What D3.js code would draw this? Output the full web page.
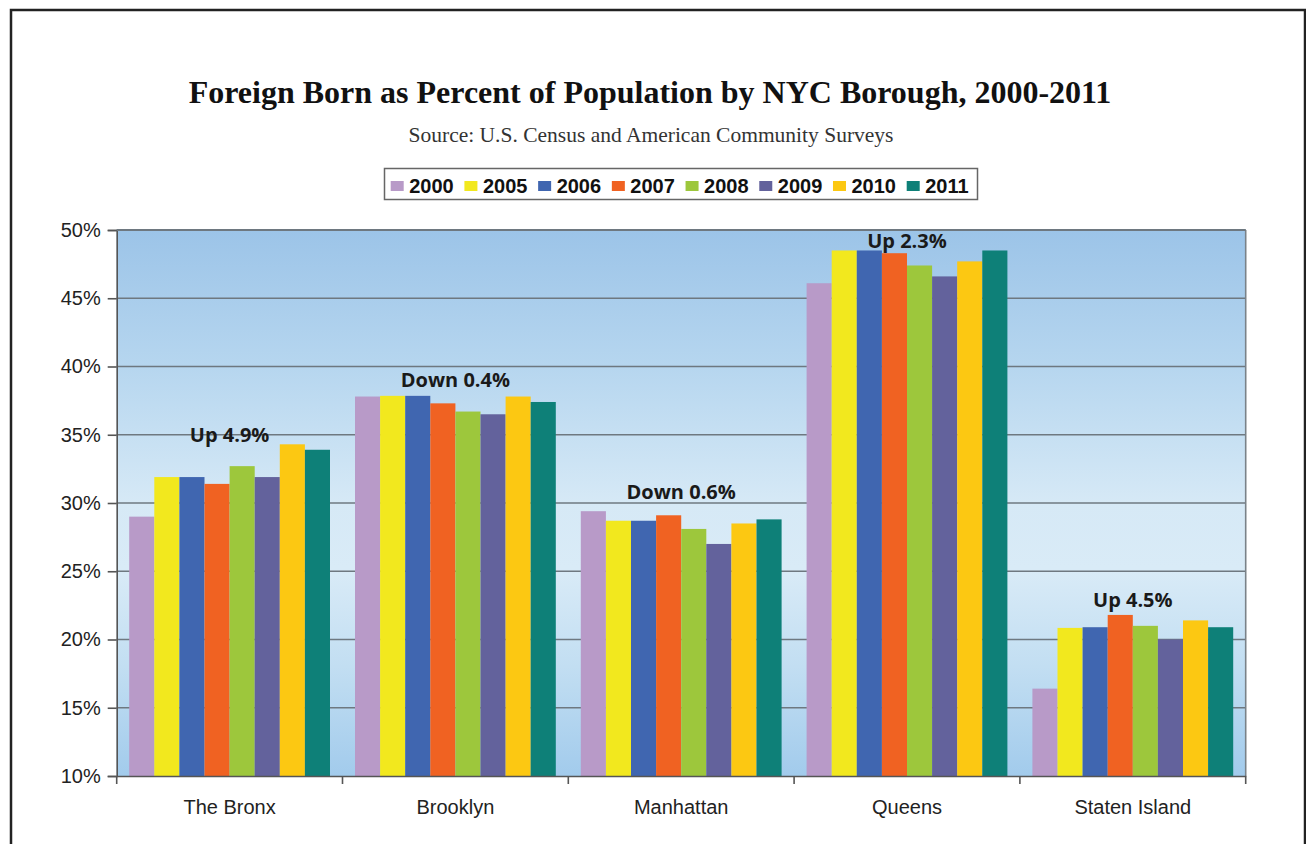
<!DOCTYPE html>
<html>
<head>
<meta charset="utf-8">
<script src="https://cdn.jsdelivr.net/npm/d3@7"></script>
<style>
  html, body { margin: 0; padding: 0; background: #fff; }
  svg { display: block; }
</style>
</head>
<body>
<svg id="chart" width="1306" height="844"></svg>
<script>
const boroughs = ["The Bronx", "Brooklyn", "Manhattan", "Queens", "Staten Island"];
const years = ["2000", "2005", "2006", "2007", "2008", "2009", "2010", "2011"];
const v2000 = [29.0, 37.8, 29.4, 46.1, 16.4];
const v2005 = [31.9, 37.85, 28.7, 48.5, 20.85];
const v2006 = [31.9, 37.85, 28.7, 48.5, 20.9];
const v2007 = [31.4, 37.3, 29.1, 48.3, 21.8];
const v2008 = [32.7, 36.7, 28.1, 47.4, 21.0];
const v2009 = [31.9, 36.5, 27.0, 46.6, 20.0];
const v2010 = [34.3, 37.8, 28.5, 47.7, 21.4];
const v2011 = [33.9, 37.4, 28.8, 48.5, 20.9];
const yearColors = ["#b89ac8", "#f2e81e", "#4066b0", "#f06222", "#9dc73c", "#63629c", "#fcc812", "#0e8078"];
const changeLabels = ["Up 4.9%", "Down 0.4%", "Down 0.6%", "Up 2.3%", "Up 4.5%"];
const changeLabelPos = [34.5, 38.5, 30.3, 48.7, 22.4];
const yTicks = [10, 15, 20, 25, 30, 35, 40, 45, 50];

const series = [v2000, v2005, v2006, v2007, v2008, v2009, v2010, v2011];
const rows = [];
boroughs.forEach((b, bi) => years.forEach((yr, yi) => rows.push({ borough: b, year: yr, value: series[yi][bi], color: yearColors[yi] })));

const svg = d3.select("#chart");
const plot = { left: 116.7, right: 1245.7, top: 230, bottom: 776 };

// outer frame
svg.append("rect").attr("x", 11).attr("y", 10).attr("width", 1294).attr("height", 850)
  .attr("fill", "none").attr("stroke", "#222").attr("stroke-width", 2.5);

// title
svg.append("text").attr("x", 650).attr("y", 103).attr("text-anchor", "middle")
  .attr("font-family", "Liberation Serif, serif").attr("font-weight", "bold").attr("font-size", 32)
  .attr("fill", "#111").text("Foreign Born as Percent of Population by NYC Borough, 2000-2011");
svg.append("text").attr("x", 651).attr("y", 141.5).attr("text-anchor", "middle")
  .attr("font-family", "Liberation Serif, serif").attr("font-size", 21.5)
  .attr("fill", "#333").text("Source: U.S. Census and American Community Surveys");

// legend
const leg = svg.append("g");
leg.append("rect").attr("x", 384.5).attr("y", 168.5).attr("width", 593).attr("height", 31)
  .attr("fill", "#fff").attr("stroke", "#666").attr("stroke-width", 1.5);
const legX = d3.scaleLinear().domain([0, years.length - 1]).range([390.7, 906.7]);
years.forEach((yr, i) => {
  leg.append("rect").attr("x", legX(i)).attr("y", 181).attr("width", 13).attr("height", 10).attr("fill", yearColors[i]);
  leg.append("text").attr("x", legX(i) + 18.5).attr("y", 192.7)
    .attr("font-family", "Liberation Sans, Arial, sans-serif").attr("font-weight", "bold").attr("font-size", 20)
    .attr("fill", "#111").text(yr);
});

// scales
const y = d3.scaleLinear().domain([10, 50]).range([plot.bottom, plot.top]);
const x0 = d3.scaleBand().domain(boroughs).range([plot.left, plot.right]).padding(0);
const x1 = d3.scaleBand().domain(years).range([12.5, x0.bandwidth() - 12.5]).padding(0);

// background gradient
const defs = svg.append("defs");
const grad = defs.append("linearGradient").attr("id", "bg").attr("x1", 0).attr("y1", 0).attr("x2", 0).attr("y2", 1);
[[0, "#9cc4e8"], [0.25, "#b6d6ef"], [0.5, "#d6e9f6"], [0.62, "#d9ebf7"], [0.8, "#c2def2"], [1, "#a2cbec"]]
  .forEach(([o, c]) => grad.append("stop").attr("offset", o).attr("stop-color", c));
svg.append("rect").attr("x", plot.left).attr("y", plot.top)
  .attr("width", plot.right - plot.left).attr("height", plot.bottom - plot.top).attr("fill", "url(#bg)");

// gridlines
svg.append("g").selectAll("line").data(yTicks.filter(t => t > 10)).join("line")
  .attr("x1", plot.left).attr("x2", plot.right).attr("y1", d => y(d)).attr("y2", d => y(d))
  .attr("stroke", "#6e7880").attr("stroke-width", 1.6);
svg.append("line").attr("x1", plot.right).attr("x2", plot.right).attr("y1", plot.top).attr("y2", plot.bottom)
  .attr("stroke", "#7a8288").attr("stroke-width", 1.6);

// bars
svg.append("g").selectAll("rect").data(rows).join("rect")
  .attr("x", d => x0(d.borough) + x1(d.year))
  .attr("width", x1.bandwidth())
  .attr("y", d => y(d.value))
  .attr("height", d => y(10) - y(d.value))
  .attr("fill", d => d.color);

// y axis
const yAxis = svg.append("g").attr("transform", `translate(${plot.left},0)`)
  .call(d3.axisLeft(y).tickValues(yTicks).tickFormat(d => d + "%").tickSize(9).tickPadding(7));
yAxis.select(".domain").attr("stroke", "#555").attr("stroke-width", 1.6);
yAxis.selectAll(".tick line").attr("stroke", "#555").attr("stroke-width", 1.6);
yAxis.selectAll(".tick text").attr("font-family", "Liberation Sans, Arial, sans-serif").attr("font-size", 20).attr("fill", "#222");

// x axis
const xAxis = svg.append("g").attr("transform", `translate(0,${plot.bottom})`)
  .call(d3.axisBottom(x0).tickSize(0).tickPadding(24));
xAxis.select(".domain").attr("stroke", "#555").attr("stroke-width", 1.6);
xAxis.selectAll(".tick text").attr("font-family", "Liberation Sans, Arial, sans-serif").attr("font-size", 20).attr("fill", "#222");
const bounds = boroughs.map(b => x0(b)).concat([x0.range()[1]]);
svg.append("g").selectAll("line").data(bounds).join("line")
  .attr("x1", d => d).attr("x2", d => d).attr("y1", plot.bottom).attr("y2", plot.bottom + 8)
  .attr("stroke", "#555").attr("stroke-width", 1.6);

// top border
svg.append("line").attr("x1", plot.left).attr("x2", plot.right).attr("y1", plot.top).attr("y2", plot.top)
  .attr("stroke", "#6e7880").attr("stroke-width", 1.8);

// change annotations
svg.append("g").selectAll("text").data(boroughs).join("text")
  .attr("x", d => x0(d) + x0.bandwidth() / 2)
  .attr("y", (d, i) => y(changeLabelPos[i]))
  .attr("text-anchor", "middle")
  .attr("font-family", "Open Sans, sans-serif").attr("font-weight", "bold").attr("font-size", 20)
  .attr("fill", "#1a1a1a")
  .text((d, i) => changeLabels[i]);
</script>
</body>
</html>
